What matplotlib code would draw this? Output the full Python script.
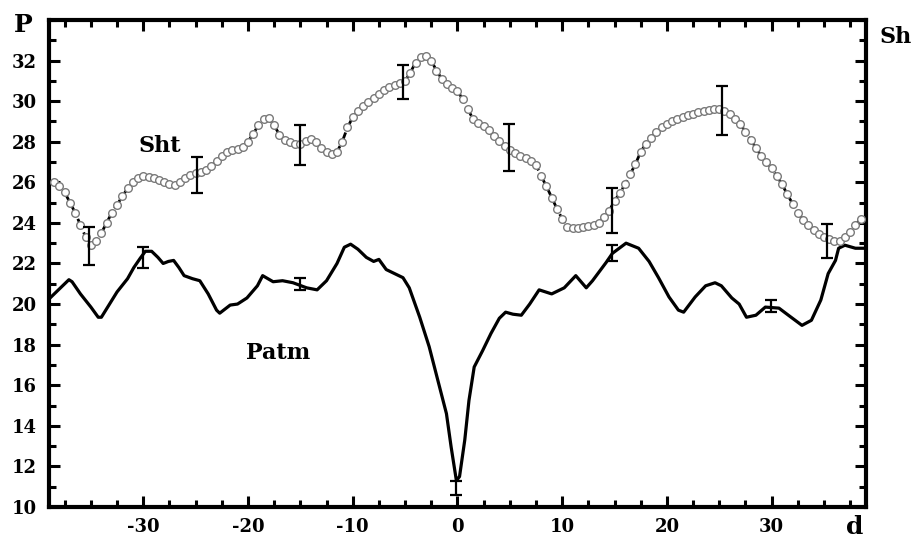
import matplotlib
matplotlib.use('Agg')
import matplotlib.pyplot as plt
import numpy as np
from matplotlib.ticker import MultipleLocator

plt.rcParams['axes.unicode_minus'] = False

# Sht series, sampled every 0.5 d from -38.5 to 38.5
sht_x = np.arange(-38.5, 38.51, 0.5)
sht_y = [26.0, 25.8, 25.5, 25.0, 24.5, 23.9, 23.3, 22.9, 23.1, 23.5,
         24.0, 24.5, 24.9, 25.3, 25.7, 26.0, 26.2, 26.3, 26.25, 26.2,
         26.1, 26.0, 25.9, 25.85, 26.0, 26.2, 26.35, 26.45, 26.5, 26.6,
         26.8, 27.05, 27.3, 27.5, 27.6, 27.65, 27.75, 28.0, 28.4, 28.8,
         29.1, 29.15, 28.8, 28.35, 28.1, 28.0, 27.9, 27.9, 28.05, 28.15,
         28.0, 27.7, 27.5, 27.4, 27.5, 28.0, 28.7, 29.2, 29.5, 29.75,
         29.95, 30.15, 30.35, 30.55, 30.7, 30.8, 30.9, 31.0, 31.4, 31.9,
         32.15, 32.2, 32.0, 31.5, 31.1, 30.85, 30.65, 30.5, 30.1, 29.6,
         29.1, 28.9, 28.75, 28.6, 28.3, 28.05, 27.8, 27.6, 27.45, 27.3,
         27.2, 27.05, 26.85, 26.3, 25.8, 25.25, 24.7, 24.2, 23.8, 23.75,
         23.75, 23.8, 23.85, 23.9, 24.0, 24.3, 24.6, 25.1, 25.45, 25.9,
         26.4, 26.9, 27.5, 27.9, 28.2, 28.5, 28.7, 28.85, 29.0, 29.1,
         29.2, 29.3, 29.35, 29.45, 29.5, 29.55, 29.6, 29.6, 29.5, 29.35,
         29.1, 28.85, 28.5, 28.1, 27.7, 27.3, 27.0, 26.7, 26.3, 25.9,
         25.4, 24.95, 24.5, 24.15, 23.9, 23.65, 23.45, 23.3, 23.2, 23.1,
         23.1, 23.3, 23.55, 23.9, 24.2]

# Patm series
patm_x = [-38.9, -37.9, -37.1, -36.8, -36.0, -35.0, -34.3, -34.0, -33.4, -32.5,
          -31.5, -30.9, -30.3, -29.8, -29.2, -28.6, -28.1, -27.6, -27.1, -26.6,
          -26.1, -25.3, -24.6, -23.8, -23.0, -22.7, -21.7, -21.0, -20.1, -19.1,
          -18.6, -17.6, -16.7, -15.7, -14.4, -13.4, -12.5, -11.5, -10.8, -10.2,
          -9.5, -8.7, -8.0, -7.5, -6.8, -6.0, -5.2, -4.6, -3.6, -2.7,
          -1.7, -1.05, -0.6, -0.1, 0.2, 0.7, 1.1, 1.6, 2.4, 3.2,
          4.0, 4.6, 5.3, 6.1, 6.9, 7.8, 9.0, 10.2, 11.3, 12.3,
          12.9, 14.2, 14.8, 16.1, 17.3, 18.3, 19.2, 20.2, 21.1, 21.6,
          22.7, 23.7, 24.6, 25.2, 26.2, 26.9, 27.6, 28.5, 29.4, 30.7,
          31.6, 32.9, 33.8, 34.7, 35.4, 36.1, 36.4, 37.0, 38.0, 38.8]
patm_y = [20.3, 20.8, 21.2, 21.1, 20.5, 19.85, 19.35, 19.35, 19.85, 20.6,
          21.25, 21.8, 22.25, 22.6, 22.6, 22.3, 22.0, 22.1, 22.15, 21.8,
          21.4, 21.25, 21.15, 20.5, 19.7, 19.55, 19.95, 20.0, 20.3, 20.9,
          21.4, 21.1, 21.15, 21.05, 20.8, 20.7, 21.15, 22.0, 22.8, 22.95,
          22.7, 22.3, 22.1, 22.2, 21.7, 21.5, 21.3, 20.8, 19.35, 17.9,
          15.9, 14.6, 12.95, 11.3, 11.5, 13.3, 15.25, 16.9, 17.7, 18.55,
          19.3, 19.6, 19.5, 19.45, 20.0, 20.7, 20.5, 20.8, 21.4, 20.8,
          21.15, 22.05, 22.5, 23.0, 22.75, 22.1, 21.3, 20.35, 19.7, 19.6,
          20.35, 20.9, 21.05, 20.9, 20.3, 20.0, 19.35, 19.45, 19.85, 19.8,
          19.45, 18.95, 19.2, 20.2, 21.5, 22.15, 22.75, 22.9, 22.75, 22.75]

# error bars
sht_err_x = [-35.2, -24.9, -15.0, -5.2, 4.9, 14.8, 25.3, 35.3]
sht_err_y = [22.85, 26.35, 27.85, 30.95, 27.7, 24.6, 29.55, 23.1]
sht_err = [0.95, 0.9, 0.98, 0.85, 1.15, 1.1, 1.2, 0.85]

patm_err_x = [-30.0, -15.0, -0.1, 14.8, 29.9]
patm_err_y = [22.3, 21.0, 10.95, 22.5, 19.9]
patm_err = [0.5, 0.3, 0.35, 0.4, 0.3]

serif = 'DejaVu Serif'

fig = plt.figure(figsize=(9.23, 5.40), dpi=100)
ax = fig.add_axes([0.0531, 0.0611, 0.885, 0.902])

ax.plot(sht_x, sht_y, color='black', linestyle='--', linewidth=2.0, zorder=2)
ax.plot(sht_x, sht_y, linestyle='none', marker='o', markersize=5.5,
        markerfacecolor='white', markeredgecolor='#7a7a7a', markeredgewidth=1.0, zorder=3)
ax.plot(patm_x, patm_y, color='black', linewidth=2.3, zorder=2)

ax.errorbar(sht_err_x, sht_err_y, yerr=sht_err, fmt='none', ecolor='black',
            elinewidth=1.6, capsize=4.5, capthick=1.6, zorder=4)
ax.errorbar(patm_err_x, patm_err_y, yerr=patm_err, fmt='none', ecolor='black',
            elinewidth=1.6, capsize=4.5, capthick=1.6, zorder=4)

ax.set_xlim(-39, 39)
ax.set_ylim(10, 34)
ax.set_xticks([-30, -20, -10, 0, 10, 20, 30])
ax.set_yticks(np.arange(10, 33, 2))
ax.xaxis.set_minor_locator(MultipleLocator(2.5))
ax.yaxis.set_minor_locator(MultipleLocator(1))
ax.tick_params(which='both', direction='in', top=True, right=True, width=2.2, color='black')
ax.tick_params(which='major', length=8)
ax.tick_params(which='minor', length=5)
for spine in ax.spines.values():
    spine.set_linewidth(3)

for lab in ax.get_xticklabels() + ax.get_yticklabels():
    lab.set_fontfamily(serif)
    lab.set_fontweight('bold')
    lab.set_fontsize(13)
ax.tick_params(axis='x', pad=8)
ax.tick_params(axis='y', pad=9)

ax.text(-28.4, 27.8, 'Sht', fontfamily=serif, fontweight='bold', fontsize=16,
        ha='center', va='center')
ax.text(-17.1, 17.6, 'Patm', fontfamily=serif, fontweight='bold', fontsize=16,
        ha='center', va='center')

fig.text(0.025, 0.953, 'P', fontfamily=serif, fontweight='bold', fontsize=18,
         ha='center', va='center')
fig.text(0.97, 0.932, 'Sh', fontfamily=serif, fontweight='bold', fontsize=16,
         ha='center', va='center')
fig.text(0.926, 0.024, 'd', fontfamily=serif, fontweight='bold', fontsize=18,
         ha='center', va='center')

fig.savefig('out.png', dpi=100)
